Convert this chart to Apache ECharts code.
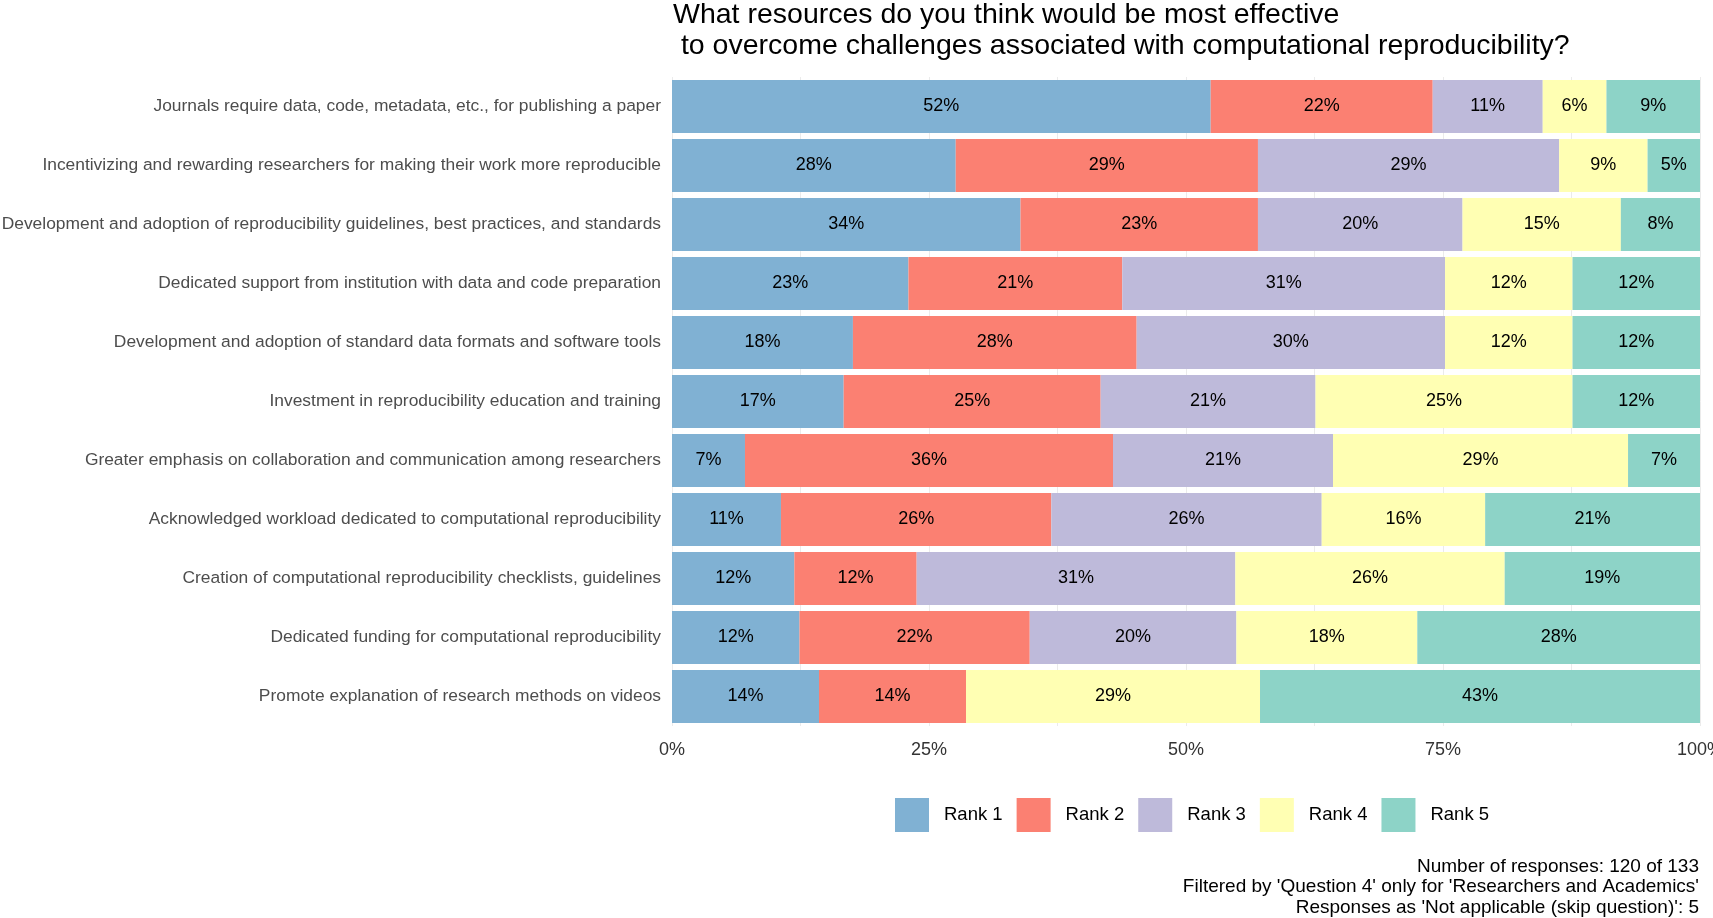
<!DOCTYPE html>
<html>

<head>
  <meta charset="UTF-8">
  <title>Computational reproducibility resources</title>
  <script src="https://cdn.jsdelivr.net/npm/echarts@6/dist/echarts.min.js"></script>
  <style>
    body { margin: 0; background: #fff; }
  </style>
</head>

<body>
  <div id="main" style="width: 1713px;height:918px;"></div>
  <script type="text/javascript">
    // categories, top to bottom
    var categories = [
      'Journals require data, code, metadata, etc., for publishing a paper',
      'Incentivizing and rewarding researchers for making their work more reproducible',
      'Development and adoption of reproducibility guidelines, best practices, and standards',
      'Dedicated support from institution with data and code preparation',
      'Development and adoption of standard data formats and software tools',
      'Investment in reproducibility education and training',
      'Greater emphasis on collaboration and communication among researchers',
      'Acknowledged workload dedicated to computational reproducibility',
      'Creation of computational reproducibility checklists, guidelines',
      'Dedicated funding for computational reproducibility',
      'Promote explanation of research methods on videos'
    ];

    // share of respondents (%) per rank, same order as categories
    var rank1 = [52.4, 27.6, 33.9, 23.0, 17.6, 16.7, 7.1, 10.6, 11.9, 12.4, 14.3];
    var rank2 = [21.6, 29.4, 23.1, 20.8, 27.6, 25.0, 35.8, 26.3, 11.9, 22.4, 14.3];
    var rank3 = [10.7, 29.3, 19.9, 31.4, 30.0, 20.9, 21.4, 26.3, 31.0, 20.1, 0];
    var rank4 = [6.2, 8.6, 15.4, 12.4, 12.4, 25.0, 28.7, 15.9, 26.2, 17.6, 28.6];
    var rank5 = [9.1, 5.1, 7.7, 12.4, 12.4, 12.4, 7.0, 20.9, 19.0, 27.5, 42.8];

    var rankNames = ['Rank 1', 'Rank 2', 'Rank 3', 'Rank 4', 'Rank 5'];
    var xTicks = [0, 25, 50, 75, 100];

    var captionLines = [
      'Number of responses: 120 of 133',
      "Filtered by 'Question 4' only for 'Researchers and Academics'",
      "Responses as 'Not applicable (skip question)': 5"
    ];

    var colors = ['#80B1D3', '#FB8072', '#BEBADA', '#FFFFB3', '#8DD3C7'];
    var font = 'Liberation Sans, Arial, Helvetica, sans-serif';

    var myChart = echarts.init(document.getElementById('main'));

    var seriesData = [rank1, rank2, rank3, rank4, rank5];
    var series = seriesData.map(function (vals, i) {
      return {
        name: rankNames[i],
        type: 'bar',
        stack: 'total',
        barWidth: 53,
        data: vals,
        itemStyle: { color: colors[i] },
        label: {
          show: true,
          position: 'inside',
          color: '#000',
          fontFamily: font,
          fontSize: 18,
          formatter: function (p) {
            return p.value > 0 ? Math.round(p.value) + '%' : '';
          }
        }
      };
    });

    // caption, one right-aligned text per line
    var caption = captionLines.map(function (line, i) {
      return {
        type: 'text',
        right: 14,
        top: 857 + i * 20.5,
        style: {
          text: line,
          fontFamily: font,
          fontSize: 19,
          fill: '#000'
        }
      };
    });

    var option = {
      animation: false,
      color: colors,
      title: {
        text: 'What resources do you think would be most effective\n to overcome challenges associated with computational reproducibility?',
        left: 673,
        top: -1,
        padding: 0,
        textStyle: {
          fontFamily: font,
          fontSize: 28.5,
          fontWeight: 'normal',
          color: '#000',
          lineHeight: 31.6
        }
      },
      legend: {
        data: rankNames,
        left: 895,
        top: 798,
        padding: 0,
        icon: 'rect',
        itemWidth: 34,
        itemHeight: 34,
        itemGap: 14,
        textStyle: {
          fontFamily: font,
          fontSize: 18.5,
          color: '#000',
          padding: [0, 0, 0, 10]
        }
      },
      graphic: caption,
      grid: {
        left: 672,
        right: 13,
        top: 77,
        bottom: 192,
        outerBoundsMode: 'none'
      },
      xAxis: {
        type: 'value',
        min: 0,
        max: 100,
        interval: 12.5,
        axisLine: { show: false },
        axisTick: { show: false },
        splitLine: { lineStyle: { color: '#EBEBEB', width: 1 } },
        axisLabel: {
          margin: 15,
          fontFamily: font,
          fontSize: 18,
          color: '#333',
          formatter: function (v) {
            return xTicks.indexOf(v) >= 0 ? v + '%' : '';
          }
        }
      },
      yAxis: {
        type: 'category',
        data: categories,
        inverse: true,
        axisLine: { show: false },
        axisTick: { show: false },
        splitLine: { show: false },
        axisLabel: {
          margin: 11,
          fontFamily: font,
          fontSize: 17.4,
          color: '#4D4D4D'
        }
      },
      series: series
    };

    myChart.setOption(option);
  </script>
</body>

</html>
